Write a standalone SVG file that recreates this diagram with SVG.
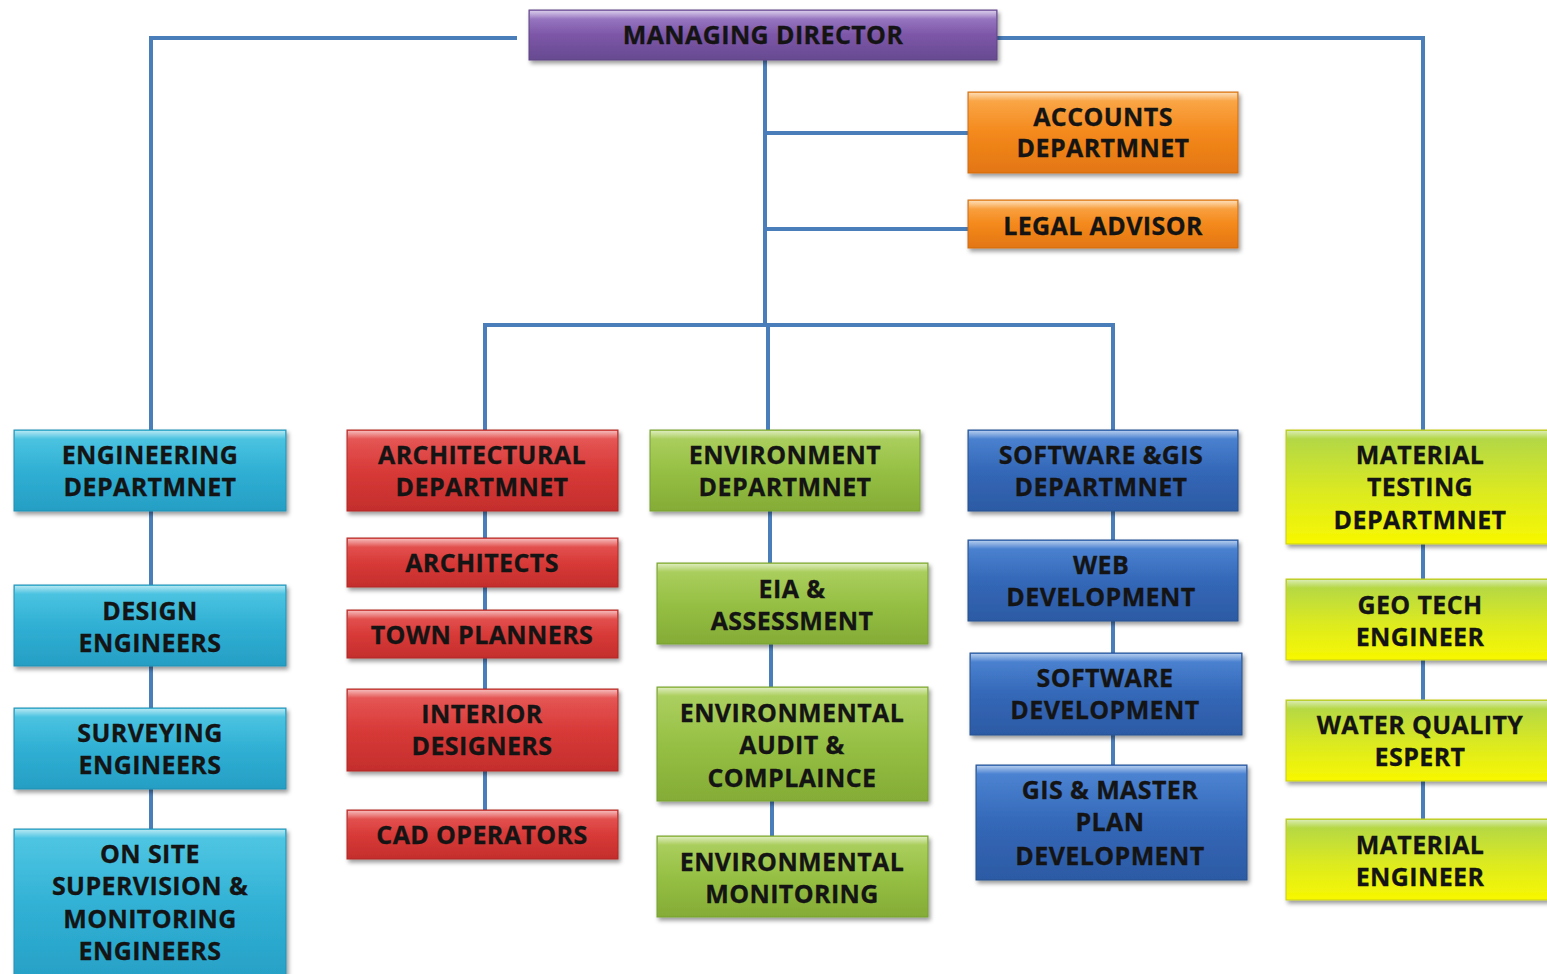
<svg xmlns="http://www.w3.org/2000/svg" width="1547" height="974" viewBox="0 0 1547 974">
<defs>
<linearGradient id="gPurple" x1="0" y1="0" x2="0" y2="1"><stop offset="0" stop-color="#a486cc"/><stop offset="0.5" stop-color="#7d56a8"/><stop offset="1" stop-color="#664a90"/></linearGradient>
<linearGradient id="gOrange" x1="0" y1="0" x2="0" y2="1"><stop offset="0" stop-color="#fbad52"/><stop offset="0.5" stop-color="#f4891c"/><stop offset="1" stop-color="#e37612"/></linearGradient>
<linearGradient id="gCyan" x1="0" y1="0" x2="0" y2="1"><stop offset="0" stop-color="#52c8e4"/><stop offset="0.5" stop-color="#30b0d4"/><stop offset="1" stop-color="#269ec4"/></linearGradient>
<linearGradient id="gRed" x1="0" y1="0" x2="0" y2="1"><stop offset="0" stop-color="#e85e5c"/><stop offset="0.5" stop-color="#d83a38"/><stop offset="1" stop-color="#c42e2c"/></linearGradient>
<linearGradient id="gGreen" x1="0" y1="0" x2="0" y2="1"><stop offset="0" stop-color="#b0d264"/><stop offset="0.5" stop-color="#96c044"/><stop offset="1" stop-color="#84ac36"/></linearGradient>
<linearGradient id="gBlue" x1="0" y1="0" x2="0" y2="1"><stop offset="0" stop-color="#5088d6"/><stop offset="0.5" stop-color="#3468b8"/><stop offset="1" stop-color="#2c5aa4"/></linearGradient>
<linearGradient id="gYellow" x1="0" y1="0" x2="0" y2="1"><stop offset="0" stop-color="#acd44c"/><stop offset="0.55" stop-color="#dcea20"/><stop offset="1" stop-color="#f8f800"/></linearGradient>
<linearGradient id="gHi" x1="0" y1="0" x2="0" y2="1"><stop offset="0" stop-color="#ffffff" stop-opacity="0.55"/><stop offset="1" stop-color="#ffffff" stop-opacity="0"/></linearGradient>
<filter id="sh" x="-10%" y="-20%" width="125%" height="150%"><feDropShadow dx="2" dy="3" stdDeviation="2" flood-color="#000" flood-opacity="0.4"/></filter>
</defs>
<style>
.box{filter:url(#sh);stroke-width:1}
.purple{fill:url(#gPurple);stroke:#5e4384}
.orange{fill:url(#gOrange);stroke:#d06c10}
.cyan{fill:url(#gCyan);stroke:#2290b4}
.red{fill:url(#gRed);stroke:#b02826}
.green{fill:url(#gGreen);stroke:#76a030}
.blue{fill:url(#gBlue);stroke:#26508e}
.yellow{fill:url(#gYellow);stroke:#c8cc10}
.hi{fill:url(#gHi)}
text{font-family:"Open Sans","Liberation Sans",sans-serif;font-weight:700;font-size:25px;letter-spacing:0.4px;fill:#141414;stroke:#141414;stroke-width:0.3;text-anchor:middle}
.conn path{fill:none;stroke:#4a7ebb;stroke-width:4}
</style>
<rect width="1547" height="974" fill="#ffffff"/>
<g class="conn">
<path d="M517 38H151V430"/>
<path d="M997 38H1423V430"/>
<path d="M765 60V325"/>
<path d="M768 325V430"/>
<path d="M767 133H968"/>
<path d="M767 229H968"/>
<path d="M485 430V325H1113V430"/>
<path d="M151 511V585M151 666V708M151 789V829"/>
<path d="M485 511V538M485 587V610M485 658V689M485 771V810"/>
<path d="M770 511V563M771 644V687M772 801V836"/>
<path d="M1113 511V540M1113 621V653M1113 735V765"/>
<path d="M1423 544V579M1423 660V700M1423 781V819"/>
</g>
<g id="managing-director"><rect class="box purple" x="529" y="10" width="468" height="50"/><rect class="hi" x="530" y="11" width="466" height="8"/><text x="763" y="44">MANAGING DIRECTOR</text></g>
<g id="accounts"><rect class="box orange" x="968" y="92" width="270" height="81"/><rect class="hi" x="969" y="93" width="268" height="8"/><text x="1103" y="126">ACCOUNTS</text><text x="1103" y="157">DEPARTMNET</text></g>
<g id="legal"><rect class="box orange" x="968" y="200" width="270" height="48"/><rect class="hi" x="969" y="201" width="268" height="8"/><text x="1103" y="235">LEGAL ADVISOR</text></g>

<g id="engineering"><rect class="box cyan" x="14" y="430" width="272" height="81"/><rect class="hi" x="15" y="431" width="270" height="8"/><text x="150" y="464">ENGINEERING</text><text x="150" y="496">DEPARTMNET</text></g>
<g id="design"><rect class="box cyan" x="14" y="585" width="272" height="81"/><rect class="hi" x="15" y="586" width="270" height="8"/><text x="150" y="620">DESIGN</text><text x="150" y="652">ENGINEERS</text></g>
<g id="surveying"><rect class="box cyan" x="14" y="708" width="272" height="81"/><rect class="hi" x="15" y="709" width="270" height="8"/><text x="150" y="742">SURVEYING</text><text x="150" y="774">ENGINEERS</text></g>
<g id="onsite"><rect class="box cyan" x="14" y="829" width="272" height="160"/><rect class="hi" x="15" y="830" width="270" height="8"/><text x="150" y="863">ON SITE</text><text x="150" y="895">SUPERVISION &amp;</text><text x="150" y="928">MONITORING</text><text x="150" y="960">ENGINEERS</text></g>

<g id="architectural"><rect class="box red" x="347" y="430" width="271" height="81"/><rect class="hi" x="348" y="431" width="269" height="8"/><text x="482" y="464">ARCHITECTURAL</text><text x="482" y="496">DEPARTMNET</text></g>
<g id="architects"><rect class="box red" x="347" y="538" width="271" height="49"/><rect class="hi" x="348" y="539" width="269" height="8"/><text x="482" y="572">ARCHITECTS</text></g>
<g id="town-planners"><rect class="box red" x="347" y="610" width="271" height="48"/><rect class="hi" x="348" y="611" width="269" height="8"/><text x="482" y="644">TOWN PLANNERS</text></g>
<g id="interior"><rect class="box red" x="347" y="689" width="271" height="82"/><rect class="hi" x="348" y="690" width="269" height="8"/><text x="482" y="723">INTERIOR</text><text x="482" y="755">DESIGNERS</text></g>
<g id="cad"><rect class="box red" x="347" y="810" width="271" height="49"/><rect class="hi" x="348" y="811" width="269" height="8"/><text x="482" y="844">CAD OPERATORS</text></g>

<g id="environment"><rect class="box green" x="650" y="430" width="270" height="81"/><rect class="hi" x="651" y="431" width="268" height="8"/><text x="785" y="464">ENVIRONMENT</text><text x="785" y="496">DEPARTMNET</text></g>
<g id="eia"><rect class="box green" x="657" y="563" width="271" height="81"/><rect class="hi" x="658" y="564" width="269" height="8"/><text x="792" y="598">EIA &amp;</text><text x="792" y="630">ASSESSMENT</text></g>
<g id="env-audit"><rect class="box green" x="657" y="687" width="271" height="114"/><rect class="hi" x="658" y="688" width="269" height="8"/><text x="792" y="722">ENVIRONMENTAL</text><text x="792" y="754">AUDIT &amp;</text><text x="792" y="787">COMPLAINCE</text></g>
<g id="env-monitoring"><rect class="box green" x="657" y="836" width="271" height="81"/><rect class="hi" x="658" y="837" width="269" height="8"/><text x="792" y="871">ENVIRONMENTAL</text><text x="792" y="903">MONITORING</text></g>

<g id="software-gis"><rect class="box blue" x="968" y="430" width="270" height="81"/><rect class="hi" x="969" y="431" width="268" height="8"/><text x="1101" y="464">SOFTWARE &amp;GIS</text><text x="1101" y="496">DEPARTMNET</text></g>
<g id="web"><rect class="box blue" x="968" y="540" width="270" height="81"/><rect class="hi" x="969" y="541" width="268" height="8"/><text x="1101" y="574">WEB</text><text x="1101" y="606">DEVELOPMENT</text></g>
<g id="software-dev"><rect class="box blue" x="970" y="653" width="272" height="82"/><rect class="hi" x="971" y="654" width="270" height="8"/><text x="1105" y="687">SOFTWARE</text><text x="1105" y="719">DEVELOPMENT</text></g>
<g id="gis-master"><rect class="box blue" x="976" y="765" width="271" height="115"/><rect class="hi" x="977" y="766" width="269" height="8"/><text x="1110" y="799">GIS &amp; MASTER</text><text x="1110" y="831">PLAN</text><text x="1110" y="865">DEVELOPMENT</text></g>

<g id="material-testing"><rect class="box yellow" x="1286" y="430" width="280" height="114"/><rect class="hi" x="1287" y="431" width="278" height="8"/><text x="1420" y="464">MATERIAL</text><text x="1420" y="496">TESTING</text><text x="1420" y="529">DEPARTMNET</text></g>
<g id="geotech"><rect class="box yellow" x="1286" y="579" width="280" height="81"/><rect class="hi" x="1287" y="580" width="278" height="8"/><text x="1420" y="614">GEO TECH</text><text x="1420" y="646">ENGINEER</text></g>
<g id="water"><rect class="box yellow" x="1286" y="700" width="280" height="81"/><rect class="hi" x="1287" y="701" width="278" height="8"/><text x="1420" y="734">WATER QUALITY</text><text x="1420" y="766">ESPERT</text></g>
<g id="material-eng"><rect class="box yellow" x="1286" y="819" width="280" height="81"/><rect class="hi" x="1287" y="820" width="278" height="8"/><text x="1420" y="854">MATERIAL</text><text x="1420" y="886">ENGINEER</text></g>
</svg>
